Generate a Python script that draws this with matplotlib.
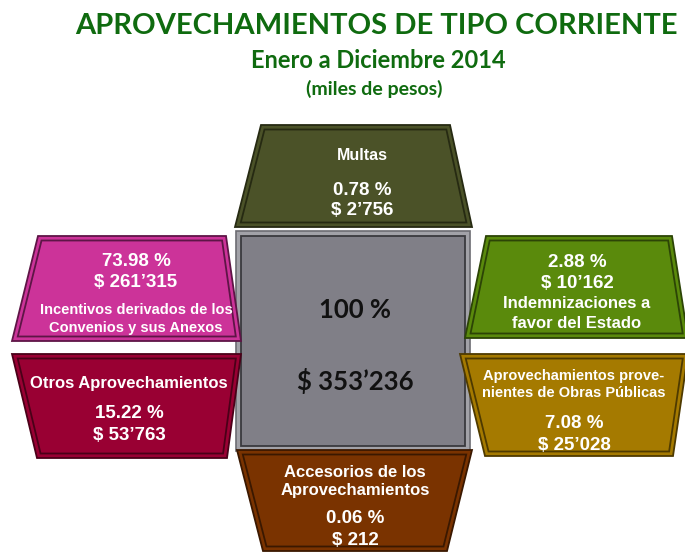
import numpy as np
import matplotlib
matplotlib.use("Agg")
import matplotlib.pyplot as plt
from matplotlib.patches import Polygon

# ---------------- data ----------------
title = "APROVECHAMIENTOS DE TIPO CORRIENTE"
subtitle = "Enero a Diciembre 2014"
units = "(miles de pesos)"
categories = [
    "Multas",
    "Incentivos derivados de los\nConvenios y sus Anexos",
    "Indemnizaciones a\nfavor del Estado",
    "Otros Aprovechamientos",
    "Aprovechamientos prove-\nnientes de Obras Públicas",
    "Accesorios de los\nAprovechamientos",
]
percentages = [0.78, 73.98, 2.88, 15.22, 7.08, 0.06]
amounts = [2756, 261315, 10162, 53763, 25028, 212]
total_pct = 100
total_amount = 353236

# ---------------- layout / style ----------------
W, H = 685, 553
fills = ["#4b5228", "#cc3399", "#5a8a0c", "#990033", "#a57a00", "#7a3300"]
edges = ["#262a12", "#5e1546", "#2c4406", "#4a0018", "#4e3a00", "#3a1800"]
shapes = [
    [(261, 125), (450, 125), (472, 227), (235, 227)],
    [(38, 236), (226, 236), (241, 341), (12, 341)],
    [(486, 236), (672, 236), (688, 338), (465, 338)],
    [(12, 354), (241, 354), (227, 458), (37, 458)],
    [(460, 354), (688, 354), (673, 456), (485, 456)],
    [(237, 450), (472, 450), (447, 551), (263, 551)],
]
# center x, label baselines, pct baseline, amount baseline, label size
text_layout = [
    (362, [160], 195, 215, 11.5),
    (136, [314, 332], 266, 287, 10.5),
    (577, [308, 328], 267, 288, 12),
    (129, [388], 418, 440, 12),
    (574, [380, 397], 428, 450, 10.5),
    (355, [477, 495], 523, 545, 12),
]


def inset(pts, d):
    P = np.array(pts, float)
    n = len(P)
    area = 0.5 * np.sum(P[:, 0] * np.roll(P[:, 1], -1) - np.roll(P[:, 0], -1) * P[:, 1])
    s = 1 if area > 0 else -1
    lines = []
    for i in range(n):
        a = P[i]
        b = P[(i + 1) % n]
        e = b - a
        e = e / np.linalg.norm(e)
        nrm = s * np.array([-e[1], e[0]])
        lines.append((a + nrm * d, e))
    out = []
    for i in range(n):
        p1, e1 = lines[i - 1]
        p2, e2 = lines[i]
        A = np.array([e1, -e2]).T
        t, u = np.linalg.solve(A, p2 - p1)
        out.append(p1 + t * e1)
    return out


def fmt_amount(v):
    return "$ " + f"{v:,}".replace(",", "\u2019")


fig = plt.figure(figsize=(W / 100, H / 100), dpi=100)
ax = fig.add_axes([0, 0, 1, 1])
ax.set_xlim(0, W)
ax.set_ylim(H, 0)
ax.axis("off")
fig.patch.set_facecolor("white")

# center box
box = [(236, 231), (470, 231), (470, 451), (236, 451)]
ax.add_patch(Polygon(box, closed=True, facecolor="#a2a2a8", edgecolor="#6c6c72", lw=1.2, zorder=1))
ax.add_patch(Polygon(inset(box, 5), closed=True, facecolor="#807f87", edgecolor="#3a3a3e", lw=1.3, zorder=2))

# category shapes
for pts, fc, ec in zip(shapes, fills, edges):
    ax.add_patch(Polygon(pts, closed=True, facecolor=fc, edgecolor=ec, lw=1.3, zorder=3))
    ax.add_patch(Polygon(inset(pts, 4.5), closed=True, facecolor="none", edgecolor=ec, lw=1.3, zorder=4))

box_font = dict(family="Liberation Sans", weight="bold", color="white", ha="center", va="baseline", zorder=5)
for cat, pct, amt, (cx, lbl_y, py, ay, lsize) in zip(categories, percentages, amounts, text_layout):
    for line, y in zip(cat.split("\n"), lbl_y):
        ax.text(cx, y, line, fontsize=lsize, **box_font)
    ax.text(cx, py, f"{pct:.2f} %", fontsize=13.5, **box_font)
    ax.text(cx, ay, fmt_amount(amt), fontsize=13.5, **box_font)

# center texts
ctr_font = dict(family="Lato", weight="bold", color="#111111", ha="center", va="baseline", zorder=5)
ax.text(355, 318, f"{total_pct} %", fontsize=18.5, **ctr_font)
ax.text(355, 390, fmt_amount(total_amount), fontsize=18.5, **ctr_font)

# titles
ttl_font = dict(family="Lato", weight="bold", color="#0f6b0f", ha="center", va="baseline")
ax.text(376, 34, title, fontsize=21, **ttl_font)
ax.text(378, 68, subtitle, fontsize=17, **ttl_font)
ax.text(374, 95, units, fontsize=14, **ttl_font)

fig.savefig("out.png", dpi=100, facecolor="white")
